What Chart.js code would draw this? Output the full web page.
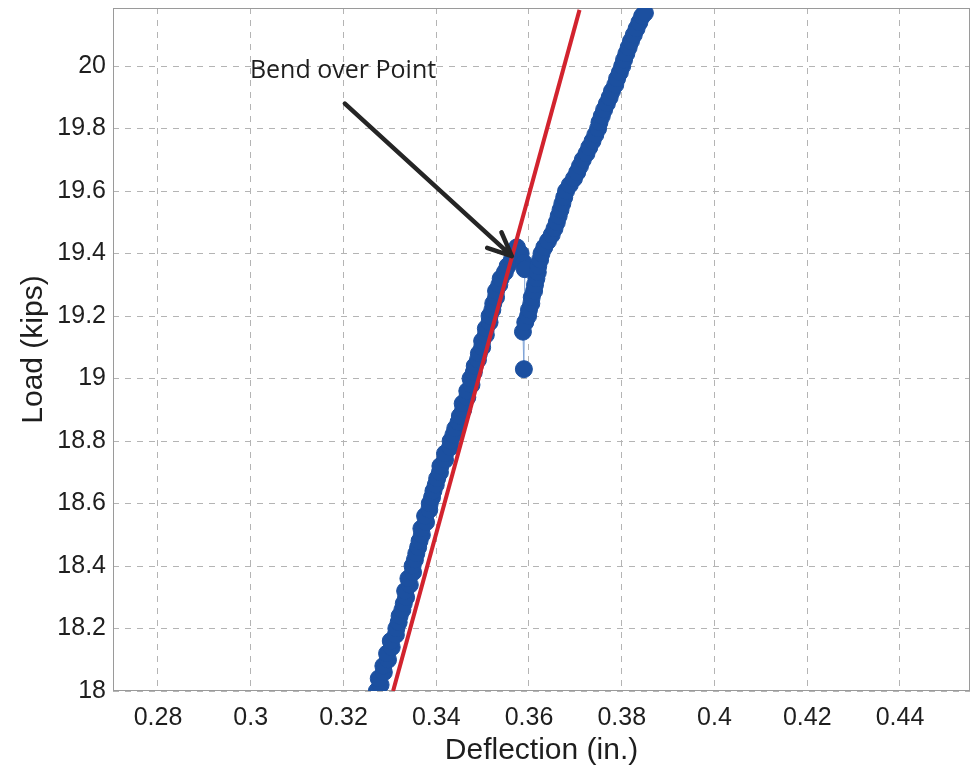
<!DOCTYPE html>
<html>
<head>
<meta charset="utf-8">
<script src="https://cdn.jsdelivr.net/npm/chart.js@4.4.1/dist/chart.umd.min.js"></script>
<style>
  html, body { margin: 0; padding: 0; background: #fff; overflow: hidden; }
  canvas { display: block; }
</style>
</head>
<body>
<canvas id="chart" width="972" height="769"></canvas>
<script>
// test record: deflection (in.) and load (kips)
const deflection = [
  0.3272, 0.3280, 0.3276, 0.3287, 0.3286, 0.3296, 0.3294, 0.3304, 0.3302, 0.3313,
  0.3314, 0.3319, 0.3321, 0.3327, 0.3330, 0.3335, 0.3333, 0.3343, 0.3340, 0.3350,
  0.3349, 0.3354, 0.3357, 0.3361, 0.3364, 0.3369, 0.3368, 0.3378, 0.3376, 0.3385,
  0.3386, 0.3391, 0.3394, 0.3399, 0.3402, 0.3408, 0.3409, 0.3419, 0.3419, 0.3430,
  0.3431, 0.3437, 0.3441, 0.3448, 0.3451, 0.3458, 0.3457, 0.3467, 0.3467, 0.3476,
  0.3474, 0.3481, 0.3483, 0.3490, 0.3492, 0.3499, 0.3499, 0.3507, 0.3507, 0.3515,
  0.3515, 0.3521, 0.3523, 0.3529, 0.3529, 0.3536, 0.3539, 0.3548, 0.3554, 0.3563,
  0.3567, 0.3574, 0.3582, 0.3589, 0.3591, 0.3589, 0.3587,
  0.3592, 0.3598, 0.3600, 0.3605, 0.3606, 0.3611, 0.3613, 0.3616, 0.3619, 0.3620,
  0.3624, 0.3627, 0.3633, 0.3641, 0.3649, 0.3655, 0.3660, 0.3664, 0.3668, 0.3672,
  0.3676, 0.3680, 0.3688, 0.3697, 0.3704, 0.3710, 0.3716, 0.3724, 0.3730, 0.3737,
  0.3743, 0.3749, 0.3752, 0.3757, 0.3762, 0.3768, 0.3774, 0.3779, 0.3786, 0.3790,
  0.3796, 0.3801, 0.3805, 0.3810, 0.3815, 0.3820, 0.3826, 0.3832, 0.3838, 0.3844,
  0.3850
];
const load = [
  18.00, 18.02, 18.04, 18.06, 18.08, 18.10, 18.12, 18.14, 18.16, 18.18,
  18.20, 18.22, 18.24, 18.26, 18.28, 18.30, 18.32, 18.34, 18.36, 18.38,
  18.40, 18.42, 18.44, 18.46, 18.48, 18.50, 18.52, 18.54, 18.56, 18.58,
  18.60, 18.62, 18.64, 18.66, 18.68, 18.70, 18.72, 18.74, 18.76, 18.78,
  18.80, 18.82, 18.84, 18.86, 18.88, 18.90, 18.92, 18.94, 18.96, 18.98,
  19.00, 19.02, 19.04, 19.06, 19.08, 19.10, 19.12, 19.14, 19.16, 19.18,
  19.20, 19.22, 19.24, 19.26, 19.28, 19.30, 19.32, 19.34, 19.36, 19.38,
  19.40, 19.42, 19.40, 19.37, 19.35, 19.03, 19.15,
  19.18, 19.20, 19.22, 19.24, 19.26, 19.28, 19.30, 19.32, 19.34, 19.36,
  19.38, 19.40, 19.42, 19.44, 19.46, 19.48, 19.50, 19.52, 19.54, 19.56,
  19.58, 19.60, 19.62, 19.64, 19.66, 19.68, 19.70, 19.72, 19.74, 19.76,
  19.78, 19.80, 19.82, 19.84, 19.86, 19.88, 19.90, 19.92, 19.94, 19.96,
  19.98, 20.00, 20.02, 20.04, 20.06, 20.08, 20.10, 20.12, 20.14, 20.16,
  20.17
];

// straight elastic line
const fitDeflection = [0.3307, 0.3709];
const fitLoad = [18.0, 20.18];

// axes
const xTicks = [0.28, 0.30, 0.32, 0.34, 0.36, 0.38, 0.40, 0.42, 0.44];
const yTicks = [18, 18.2, 18.4, 18.6, 18.8, 19, 19.2, 19.4, 19.6, 19.8, 20];
const xRange = [0.2703, 0.4551];
const yRange = [18, 20.186];

// annotation (data coordinates)
const noteText = "Bend over Point";
const notePos = [0.3199, 19.985];
const arrowFrom = [0.3203, 19.88];
const arrowTo = [0.3563, 19.392];

document.addEventListener("DOMContentLoaded", function() {
  const ctx = document.getElementById("chart");

  const boxAndNote = {
    id: "boxAndNote",
    beforeDatasetsDraw(chart) {
      const a = chart.chartArea;
      const c = chart.ctx;
      c.save();
      c.strokeStyle = "#9a9a9a";
      c.lineWidth = 1;
      c.strokeRect(a.left + 0.5, a.top + 0.5, a.width - 1, a.height - 1);
      c.restore();
    },
    afterDatasetsDraw(chart) {
      const x = chart.scales.x, y = chart.scales.y;
      const c = chart.ctx;
      const x0 = x.getPixelForValue(arrowFrom[0]), y0 = y.getPixelForValue(arrowFrom[1]);
      const x1 = x.getPixelForValue(arrowTo[0]), y1 = y.getPixelForValue(arrowTo[1]);
      const ang = Math.atan2(y1 - y0, x1 - x0);
      c.save();
      c.strokeStyle = "#252525";
      c.lineWidth = 4.5;
      c.lineCap = "round";
      c.beginPath();
      c.moveTo(x0, y0);
      c.lineTo(x1, y1);
      c.moveTo(x1, y1);
      c.lineTo(x1 - 26 * Math.cos(ang - 0.42), y1 - 26 * Math.sin(ang - 0.42));
      c.moveTo(x1, y1);
      c.lineTo(x1 - 26 * Math.cos(ang + 0.42), y1 - 26 * Math.sin(ang + 0.42));
      c.stroke();

      c.fillStyle = "#1e1e1e";
      c.font = "25px 'Open Sans'";
      c.textAlign = "center";
      c.textBaseline = "middle";
      c.fillText(noteText, x.getPixelForValue(notePos[0]), y.getPixelForValue(notePos[1]));
      c.restore();
    }
  };

  new Chart(ctx, {
    type: "scatter",
    data: {
      datasets: [
        {
          label: "Elastic line",
          data: fitDeflection.map((v, i) => ({ x: v, y: fitLoad[i] })),
          showLine: true,
          borderColor: "#d2232e",
          borderWidth: 4,
          pointRadius: 0,
        },
        {
          label: "Load test",
          data: deflection.map((v, i) => ({ x: v, y: load[i] })),
          showLine: true,
          borderColor: "#7fa3d6",
          borderWidth: 1,
          pointRadius: 8.5,
          pointBackgroundColor: "#1c50a0",
          pointBorderColor: "#1c50a0",
          pointBorderWidth: 1,
        },
      ],
    },
    options: {
      animation: false,
      responsive: false,
      maintainAspectRatio: false,
      layout: { autoPadding: false, padding: { top: 8, right: 2, left: 0, bottom: 0 } },
      plugins: {
        legend: { display: false },
        tooltip: { enabled: false },
      },
      scales: {
        x: {
          type: "linear",
          min: xRange[0],
          max: xRange[1],
          afterBuildTicks: s => { s.ticks = xTicks.map(v => ({ value: v })); },
          afterFit: s => { s.height = 78; s.paddingLeft = 0; s.paddingRight = 0; },
          grid: { color: "#b4b4b4", drawTicks: false },
          border: { display: false, dash: [6, 6] },
          ticks: {
            color: "#1e1e1e",
            padding: 12,
            font: { family: "'Liberation Sans', Arial", size: 25 },
            callback: v => String(+v.toFixed(2)),
          },
          title: {
            display: true,
            text: "Deflection (in.)",
            color: "#1e1e1e",
            padding: { top: 0, bottom: 0 },
            font: { family: "'Liberation Sans', Arial", size: 30 },
          },
        },
        y: {
          type: "linear",
          min: yRange[0],
          max: yRange[1],
          afterBuildTicks: s => { s.ticks = yTicks.map(v => ({ value: v })); },
          afterFit: s => { s.width = 113; s.paddingTop = 0; s.paddingBottom = 0; },
          grid: { color: "#b4b4b4", drawTicks: false },
          border: { display: false, dash: [6, 6] },
          ticks: {
            color: "#1e1e1e",
            padding: 7,
            font: { family: "'Liberation Sans', Arial", size: 25 },
            callback: v => String(+v.toFixed(1)),
          },
          title: {
            display: true,
            text: "Load (kips)",
            color: "#1e1e1e",
            padding: { top: 16, bottom: 0 },
            font: { family: "'Liberation Sans', Arial", size: 30 },
          },
        },
      },
    },
    plugins: [boxAndNote],
  });
});
</script>
</body>
</html>
